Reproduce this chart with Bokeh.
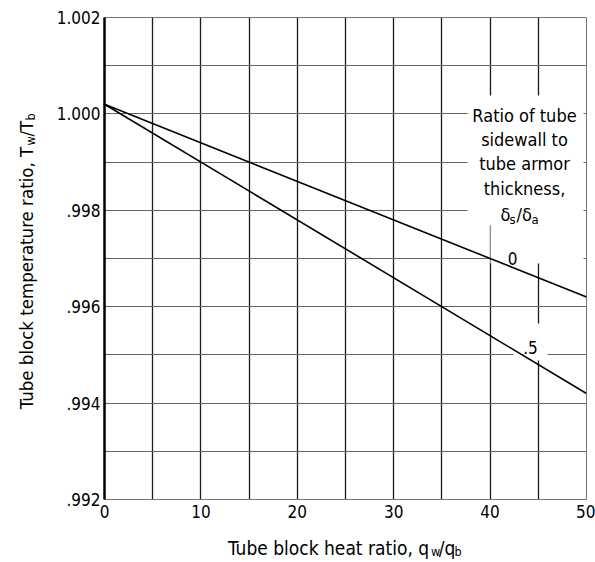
from math import pi
from bokeh.plotting import figure
from bokeh.layouts import row, column
from bokeh.models import Range1d, FixedTicker, Label, BoxAnnotation
from bokeh.embed import file_html
from bokeh.resources import INLINE

# ---- data ----
heat_ratio = [0, 50]                    # q_w / q_b
temp_ratio_0 = [1.0002, 0.9962]         # delta_s/delta_a = 0
temp_ratio_05 = [1.0002, 0.9942]        # delta_s/delta_a = .5
series_names = ["0", ".5"]

x_ticks = [0, 10, 20, 30, 40, 50]
x_grid = [0, 5, 10, 15, 20, 25, 30, 35, 40, 45, 50]
y_ticks = [0.992, 0.994, 0.996, 0.998, 1.000, 1.002]
y_tick_labels = [".992", ".994", ".996", ".998", "1.000", "1.002"]
y_grid = [0.992, 0.993, 0.994, 0.995, 0.996, 0.997, 0.998, 0.999, 1.000, 1.001, 1.002]

FONT = "DejaVu Sans Condensed"

YLAB_W = 40          # width of the strip holding the y-axis title
MAIN_W = 555
MAIN_H = 524
XLAB_H = 36
TOTAL_H = MAIN_H + XLAB_H

p = figure(width=MAIN_W, height=MAIN_H, x_range=Range1d(0, 50), y_range=Range1d(0.992, 1.002),
           output_backend="svg", toolbar_location=None,
           min_border_left=64, min_border_right=9, min_border_top=17, min_border_bottom=25)
p.background_fill_color = "white"
p.border_fill_color = "white"
p.outline_line_color = "#777777"
p.outline_line_width = 1

# grids
p.xgrid.ticker = FixedTicker(ticks=x_grid)
p.ygrid.ticker = FixedTicker(ticks=y_grid)
p.xgrid.grid_line_color = "#1a1a1a"
p.xgrid.grid_line_width = 1.3
p.ygrid.grid_line_color = "#666666"
p.ygrid.grid_line_width = 1

# axes
p.xaxis.ticker = FixedTicker(ticks=x_ticks)
p.yaxis.ticker = FixedTicker(ticks=y_ticks)
p.yaxis.major_label_overrides = dict(zip(y_ticks, y_tick_labels))
for ax in (p.xaxis, p.yaxis):
    ax.major_tick_line_color = None
    ax.minor_tick_line_color = None
    ax.major_tick_in = 0
    ax.major_tick_out = 0
    ax.major_label_text_font = FONT
    ax.major_label_text_font_size = "17px"
    ax.major_label_text_color = "black"
p.yaxis.axis_line_color = "black"
p.yaxis.axis_line_width = 2.5
p.xaxis.axis_line_color = "#777777"
p.xaxis.axis_line_width = 1
p.yaxis.major_label_standoff = 4
p.xaxis.major_label_standoff = 5


def X(px):
    # page pixel -> data x (frame: 104..586)
    return (px - 104) / 9.64


def Y(py):
    # page pixel -> data y (frame: 17..499)
    return 1.002 - (py - 17) / 48200.0


# white backgrounds behind the annotation texts (cover grid lines)
for (l, r, t, b) in [(467, 583, 95, 225), (490, 583, 225, 263), (513, 547, 323, 360)]:
    p.add_layout(BoxAnnotation(left=X(l), right=X(r), top=Y(t), bottom=Y(b),
                               fill_color="white", fill_alpha=1, line_color=None,
                               level="underlay"))

# curves
p.line(heat_ratio, temp_ratio_0, line_color="black", line_width=1.6)
p.line(heat_ratio, temp_ratio_05, line_color="black", line_width=1.6)


def lab(fig, x, y, text, size, align="left", angle=0.0):
    fig.add_layout(Label(x=x, y=y, text=text, text_font=FONT,
                         text_font_size=f"{size}px", text_color="black",
                         text_align=align, text_baseline="alphabetic", angle=angle))


# curve labels
lab(p, X(512), Y(258), series_names[0], 17, "center")
lab(p, X(530), Y(347), series_names[1], 17, "center")

# legend-title annotation
for text, py in [("Ratio of tube", 115), ("sidewall to", 139), ("tube armor", 163), ("thickness,", 188)]:
    lab(p, X(524), Y(py), text, 18, "center")
lab(p, X(500), Y(214), "\u03b4", 18)
lab(p, X(509), Y(219), "s", 13)
lab(p, X(516), Y(214), "/\u03b4", 18)
lab(p, X(531), Y(219), "a", 13)


def blank(width, height, x0, x1, y0, y1):
    f = figure(width=width, height=height, x_range=Range1d(x0, x1), y_range=Range1d(y0, y1),
               output_backend="svg", toolbar_location=None, min_border=0)
    f.axis.visible = False
    f.grid.visible = False
    f.outline_line_color = None
    f.background_fill_color = "white"
    f.border_fill_color = "white"
    return f


# x-axis title strip (page coordinates: x = page px, y = -page py)
xl = blank(MAIN_W, XLAB_H, YLAB_W, YLAB_W + MAIN_W, -TOTAL_H, -MAIN_H)
lab(xl, 420, -547, "Tube block heat ratio,  q", 19, "right")
lab(xl, 416, -551, "w", 12.5)
lab(xl, 425, -547, "/q", 19)
lab(xl, 443, -551, "b", 12.5)

# y-axis title strip (page coordinates: x = page px, y = -page py)
yl = blank(YLAB_W, TOTAL_H, 0, YLAB_W, -TOTAL_H, 0)
lab(yl, 26, -141, "Tube block temperature ratio,  T", 18.5, "right", pi / 2)
lab(yl, 30, -145, "w", 12.5, "left", pi / 2)
lab(yl, 26, -136, "/T", 18.5, "left", pi / 2)
lab(yl, 30, -120, "b", 12.5, "left", pi / 2)

layout = row(yl, column(p, xl))
open("out.html", "w").write(file_html(layout, INLINE))
